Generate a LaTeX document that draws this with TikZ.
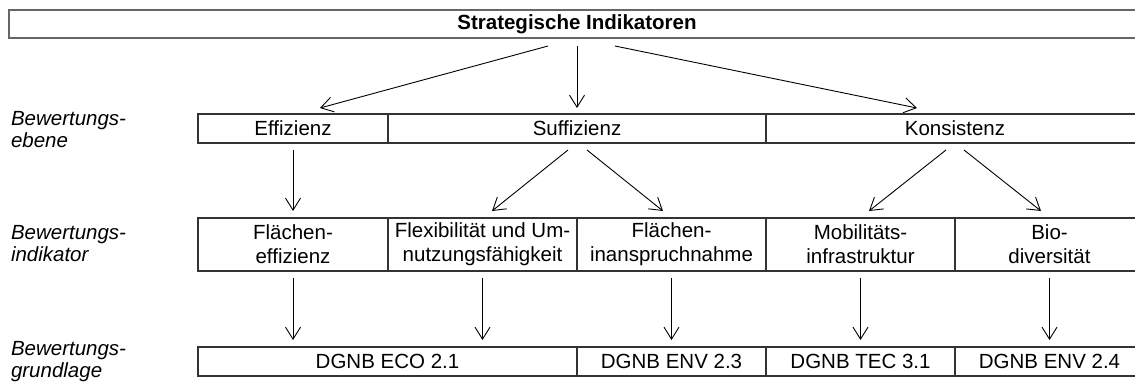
\documentclass[tikz,border=0pt]{standalone}
\usepackage{fontspec}
\setmainfont{Liberation Sans}
\usetikzlibrary{arrows.meta}
\begin{document}
\begin{tikzpicture}[x=1pt,y=-1pt,
  every node/.style={inner sep=0pt, outer sep=0pt},
  box/.style={draw=black!80, line width=1.1pt, rectangle, align=center,
    font=\fontsize{20.5}{24}\selectfont},
  topbox/.style={box, draw=black!60, line width=1.6pt},
  rowlabel/.style={anchor=west, align=left,
    font=\fontsize{20.5}{22}\selectfont\itshape},
  arr/.style={draw=black, line width=0.9pt,
    -{Straight Barb[length=12pt,width=15pt,line width=0.9pt]}},
]
\useasboundingbox (0,0) rectangle (1135,383);
\clip (0,0) rectangle (1135,383);
\fill[white] (0,0) rectangle (1135,383);

% level headings
\node[rowlabel] (lab1) at (11,130) {Bewertungs-\\ebene};
\node[rowlabel] (lab2) at (11,244) {Bewertungs-\\indikator};
\node[rowlabel] (lab3) at (11,362) {Bewertungs-\\grundlage};

% strategic indicators
\node[topbox, minimum width=1136pt, minimum height=28pt] (strat) at (577,24)
  {\bfseries Strategische Indikatoren};

% evaluation level
\node[box, minimum width=190pt, minimum height=29pt] (eff) at (293,128.5) {Effizienz};
\node[box, minimum width=378pt, minimum height=29pt] (suf) at (577,128.5) {Suffizienz};
\node[box, minimum width=378pt, minimum height=29pt] (kon) at (955,128.5) {Konsistenz};

% evaluation indicators
\node[box, minimum width=190pt, minimum height=53pt] (flef) at (293,244.5) {Flächen-\\effizienz};
\node[box, minimum width=189pt, minimum height=53pt] (flex) at (482.5,244.5) {Flexibilität und Um-\\nutzungsfähigkeit};
\node[box, minimum width=189pt, minimum height=53pt] (flin) at (671.5,244.5) {Flächen-\\inanspruchnahme};
\node[box, minimum width=189pt, minimum height=53pt] (mob) at (860.5,244.5) {Mobilitäts-\\infrastruktur};
\node[box, minimum width=189pt, minimum height=53pt] (bio) at (1049.5,244.5) {Bio-\\diversität};

% assessment basis
\node[box, minimum width=379pt, minimum height=29pt] (eco) at (387.5,361.5) {DGNB ECO 2.1};
\node[box, minimum width=189pt, minimum height=29pt] (env23) at (671.5,361.5) {DGNB ENV 2.3};
\node[box, minimum width=189pt, minimum height=29pt] (tec) at (860.5,361.5) {DGNB TEC 3.1};
\node[box, minimum width=189pt, minimum height=29pt] (env24) at (1049.5,361.5) {DGNB ENV 2.4};

% strategic indicators -> evaluation level
\draw[arr] ([xshift=-29pt,yshift=-8pt]strat.south) -- ([xshift=27pt,yshift=6pt]eff.north);
\draw[arr] ([yshift=-8pt]strat.south) -- ([yshift=6pt]suf.north);
\draw[arr] ([xshift=38pt,yshift=-8pt]strat.south) -- ([xshift=-38pt,yshift=6pt]kon.north);

% evaluation level -> indicators
\draw[arr] ([yshift=-7pt]eff.south) -- ([yshift=7pt]flef.north);
\draw[arr] ([xshift=-9pt,yshift=-7pt]suf.south) -- ([xshift=9.5pt,yshift=7pt]flex.north);
\draw[arr] ([xshift=10pt,yshift=-7pt]suf.south) -- ([xshift=-8.5pt,yshift=7pt]flin.north);
\draw[arr] ([xshift=-9pt,yshift=-7pt]kon.south) -- ([xshift=8.5pt,yshift=7pt]mob.north);
\draw[arr] ([xshift=9pt,yshift=-7pt]kon.south) -- ([xshift=-8.5pt,yshift=7pt]bio.north);

% indicators -> assessment basis
\draw[arr] ([yshift=-7pt]flef.south) -- ([yshift=7pt]flef.south |- eco.north);
\draw[arr] ([yshift=-7pt]flex.south) -- ([yshift=7pt]flex.south |- eco.north);
\draw[arr] ([yshift=-7pt]flin.south) -- ([yshift=7pt]env23.north);
\draw[arr] ([yshift=-7pt]mob.south) -- ([yshift=7pt]tec.north);
\draw[arr] ([yshift=-7pt]bio.south) -- ([yshift=7pt]env24.north);
\end{tikzpicture}
\end{document}
